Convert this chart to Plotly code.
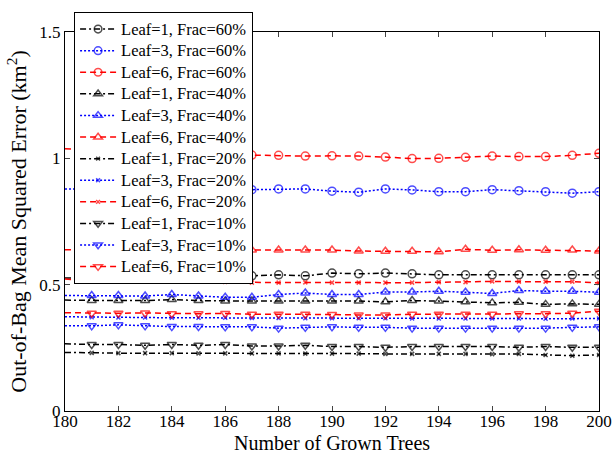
import plotly.graph_objects as go

trees = list(range(180, 201))

leaf1_60 = [0.526, 0.528, 0.530, 0.531, 0.532, 0.533, 0.534, 0.535, 0.539, 0.535, 0.546,
            0.543, 0.546, 0.543, 0.539, 0.539, 0.539, 0.539, 0.539, 0.539, 0.539]
leaf3_60 = [0.879, 0.878, 0.877, 0.877, 0.876, 0.876, 0.875, 0.876, 0.879, 0.879, 0.870,
            0.866, 0.879, 0.875, 0.868, 0.868, 0.876, 0.872, 0.868, 0.862, 0.868]
leaf6_60 = [1.038, 1.030, 1.025, 1.020, 1.018, 1.016, 1.014, 1.013, 1.012, 1.009, 1.010,
            1.009, 1.005, 0.999, 1.000, 1.004, 1.009, 1.007, 1.007, 1.012, 1.020]
leaf1_40 = [0.439, 0.437, 0.437, 0.437, 0.441, 0.437, 0.435, 0.435, 0.435, 0.435, 0.435,
            0.435, 0.432, 0.437, 0.435, 0.432, 0.428, 0.430, 0.422, 0.424, 0.422]
leaf3_40 = [0.457, 0.457, 0.457, 0.455, 0.461, 0.455, 0.450, 0.450, 0.461, 0.467, 0.461,
            0.461, 0.471, 0.471, 0.474, 0.470, 0.465, 0.477, 0.474, 0.474, 0.470]
leaf6_40 = [0.638, 0.638, 0.637, 0.637, 0.637, 0.637, 0.637, 0.637, 0.637, 0.637, 0.637,
            0.633, 0.632, 0.632, 0.630, 0.640, 0.636, 0.638, 0.636, 0.637, 0.633]
leaf1_20 = [0.232, 0.230, 0.229, 0.229, 0.229, 0.228, 0.228, 0.228, 0.228, 0.227, 0.227,
            0.227, 0.226, 0.226, 0.226, 0.226, 0.225, 0.226, 0.222, 0.219, 0.222]
leaf3_20 = [0.373, 0.371, 0.370, 0.370, 0.369, 0.369, 0.369, 0.368, 0.368, 0.367, 0.367,
            0.367, 0.367, 0.366, 0.366, 0.366, 0.366, 0.366, 0.365, 0.366, 0.366]
leaf6_20 = [0.522, 0.517, 0.516, 0.515, 0.514, 0.513, 0.511, 0.508, 0.508, 0.509, 0.508,
            0.508, 0.508, 0.508, 0.510, 0.510, 0.513, 0.512, 0.512, 0.512, 0.507]
leaf1_10 = [0.266, 0.263, 0.263, 0.260, 0.263, 0.260, 0.263, 0.257, 0.257, 0.260, 0.255,
            0.255, 0.252, 0.255, 0.255, 0.255, 0.255, 0.252, 0.255, 0.252, 0.252]
leaf3_10 = [0.337, 0.337, 0.341, 0.337, 0.334, 0.334, 0.333, 0.333, 0.328, 0.331, 0.333,
            0.331, 0.331, 0.328, 0.328, 0.328, 0.328, 0.328, 0.328, 0.331, 0.333]
leaf6_10 = [0.389, 0.387, 0.387, 0.388, 0.385, 0.385, 0.386, 0.383, 0.383, 0.383, 0.382,
            0.380, 0.380, 0.383, 0.383, 0.383, 0.383, 0.385, 0.385, 0.387, 0.395]

x_ticks = list(range(180, 201, 2))
y_ticks = [0, 0.5, 1, 1.5]
y_tick_labels = ["0", "0.5", "1", "1.5"]

series = [
    ("Leaf=1, Frac=60%", leaf1_60, "black", "6px,3px,2px,3px", "circle-open"),
    ("Leaf=3, Frac=60%", leaf3_60, "blue", "2px,2px", "circle-open"),
    ("Leaf=6, Frac=60%", leaf6_60, "red", "6px,4px", "circle-open"),
    ("Leaf=1, Frac=40%", leaf1_40, "black", "6px,3px,2px,3px", "triangle-up-open"),
    ("Leaf=3, Frac=40%", leaf3_40, "blue", "2px,2px", "triangle-up-open"),
    ("Leaf=6, Frac=40%", leaf6_40, "red", "6px,4px", "triangle-up-open"),
    ("Leaf=1, Frac=20%", leaf1_20, "black", "6px,3px,2px,3px", "x-thin-open"),
    ("Leaf=3, Frac=20%", leaf3_20, "blue", "2px,2px", "x-thin-open"),
    ("Leaf=6, Frac=20%", leaf6_20, "red", "6px,4px", "x-thin-open"),
    ("Leaf=1, Frac=10%", leaf1_10, "black", "6px,3px,2px,3px", "triangle-down-open"),
    ("Leaf=3, Frac=10%", leaf3_10, "blue", "2px,2px", "triangle-down-open"),
    ("Leaf=6, Frac=10%", leaf6_10, "red", "6px,4px", "triangle-down-open"),
]

fig = go.Figure()
for name, vals, color, dash, sym in series:
    base = 4 if sym == "x-thin-open" else 8
    sizes = [0] + [base] * (len(trees) - 1)
    fig.add_trace(go.Scatter(
        x=trees, y=vals, name='<span style="font-size:16.5px">' + name + '</span>',
        mode="lines+markers",
        line=dict(color=color, width=1.5, dash=dash),
        marker=dict(symbol=sym, size=sizes, color=color,
                    line=dict(color=color, width=1.5)),
    ))

font = "Liberation Serif, Times New Roman, serif"
fig.update_layout(
    width=613, height=455,
    margin=dict(l=65, r=14, t=28, b=44),
    paper_bgcolor="white", plot_bgcolor="white",
    font=dict(family=font, size=18, color="black"),
    showlegend=True,
    legend=dict(x=0.017, y=1.052, xanchor="left", yanchor="top",
                bgcolor="white", bordercolor="black", borderwidth=1,
                font=dict(family=font, size=14.3, color="black"),
                tracegroupgap=0, itemwidth=36, maxheight=400),
    xaxis=dict(range=[180, 200], tickvals=x_ticks, ticks="inside", ticklen=5,
               showline=True, linecolor="black", linewidth=1, mirror="ticks",
               showgrid=False, zeroline=False, automargin=False,
               ticklabelstandoff=-5,
               tickfont=dict(size=17)),
    yaxis=dict(range=[0, 1.5], tickvals=y_ticks, ticktext=y_tick_labels,
               ticks="inside", ticklen=5,
               showline=True, linecolor="black", linewidth=1, mirror="ticks",
               showgrid=False, zeroline=False, automargin=False,
               title=dict(text="Out-of-Bag Mean Squared Error (km<sup>2</sup>)", standoff=6),
               tickfont=dict(size=17)),
    annotations=[dict(text="Number of Grown Trees", xref="paper", yref="paper",
                      x=0.5, y=-0.085, xanchor="center", yanchor="middle",
                      showarrow=False, font=dict(family=font, size=20, color="black"))],
)

fig.write_html("out.html")
